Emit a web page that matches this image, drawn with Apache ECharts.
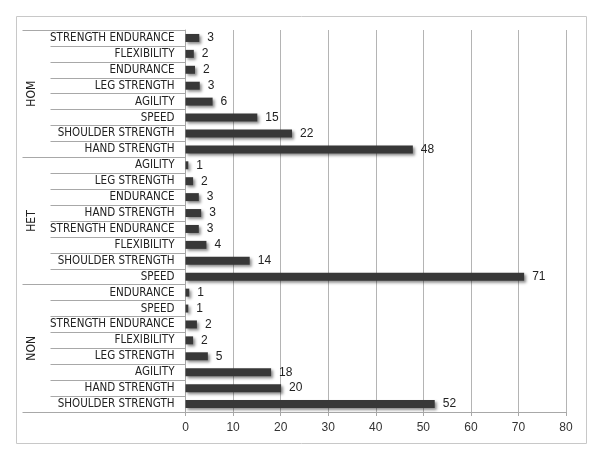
<!DOCTYPE html>
<html><head><meta charset="utf-8">
<script src="https://cdn.jsdelivr.net/npm/echarts@6/dist/echarts.min.js"></script>
<style>html,body{margin:0;padding:0;background:#fff}#c{width:600px;height:459px}</style>
</head><body><div id="c"></div>
<script>
// bottom-to-top order
const groups = ["NON", "HET", "HOM"];
const nonNames = ["SHOULDER STRENGTH","HAND STRENGTH","AGILITY","LEG STRENGTH","FLEXIBILITY","STRENGTH ENDURANCE","SPEED","ENDURANCE"];
const nonValues = [52.4, 20.1, 18.0, 4.7, 1.6, 2.4, 0.6, 0.8];
const hetNames = ["SPEED","SHOULDER STRENGTH","FLEXIBILITY","STRENGTH ENDURANCE","HAND STRENGTH","ENDURANCE","LEG STRENGTH","AGILITY"];
const hetValues = [71.2, 13.5, 4.4, 2.8, 3.3, 2.8, 1.6, 0.6];
const homNames = ["HAND STRENGTH","SHOULDER STRENGTH","SPEED","AGILITY","LEG STRENGTH","ENDURANCE","FLEXIBILITY","STRENGTH ENDURANCE"];
const homValues = [47.8, 22.4, 15.1, 5.7, 3.0, 2.0, 1.75, 2.9];
const xTicks = [0,10,20,30,40,50,60,70,80];

const cats = [].concat(
  nonNames.map(n => "NON|" + n),
  hetNames.map(n => "HET|" + n),
  homNames.map(n => "HOM|" + n));
const vals = [].concat(nonValues, hetValues, homValues);

const font = "'Liberation Sans', Arial, sans-serif";
const narrow = "'DejaVu Sans Condensed', 'Liberation Sans', Arial, sans-serif";
const chart = echarts.init(document.getElementById('c'));
chart.setOption({
  animation: false,
  graphic: [{type:'rect', shape:{x:16.5,y:16.5,width:570,height:427}, style:{fill:'none', stroke:'#c8c8c8', lineWidth:1}, z:-1}],
  grid: {left: 185.5, right: 34, top: 30, bottom: 47},
  xAxis: {
    type: 'value', min: xTicks[0], max: xTicks[xTicks.length-1], interval: 10,
    axisLine: {show: true, lineStyle: {color: '#a8a8a8'}},
    axisTick: {show: true, length: 4, lineStyle: {color: '#a8a8a8'}},
    splitLine: {show: true, lineStyle: {color: '#b4b4b4'}},
    axisLabel: {color: '#333', fontFamily: font, fontSize: 12, margin: 10}
  },
  yAxis: [{
    type: 'category', data: cats, position: 'left',
    axisLine: {show: true, lineStyle: {color: '#a8a8a8'}},
    axisTick: {show: true, interval: 0, length: 135, lineStyle: {color: '#a8a8a8'}},
    axisLabel: {interval: 0, color: '#222', fontFamily: narrow, fontSize: 11.5, margin: 11, formatter: v => v.split('|')[1]}
  }, {
    type: 'category', data: groups, position: 'left',
    axisLine: {show: false},
    axisTick: {show: true, interval: 0, length: 163, lineStyle: {color: '#a8a8a8'}},
    axisLabel: {interval: 0, color: '#222', fontFamily: narrow, fontSize: 12, rotate: 90, margin: 148}
  }],
  series: [{
    type: 'bar', yAxisIndex: 0, data: vals, barWidth: 8,
    itemStyle: {color: '#383838', shadowColor: 'rgba(0,0,0,0.45)', shadowBlur: 3, shadowOffsetX: 2, shadowOffsetY: 2},
    label: {show: true, position: 'right', distance: 8, color: '#222', fontFamily: font, fontSize: 12,
      formatter: p => Math.round(p.value)}
  }]
});
</script></body></html>
